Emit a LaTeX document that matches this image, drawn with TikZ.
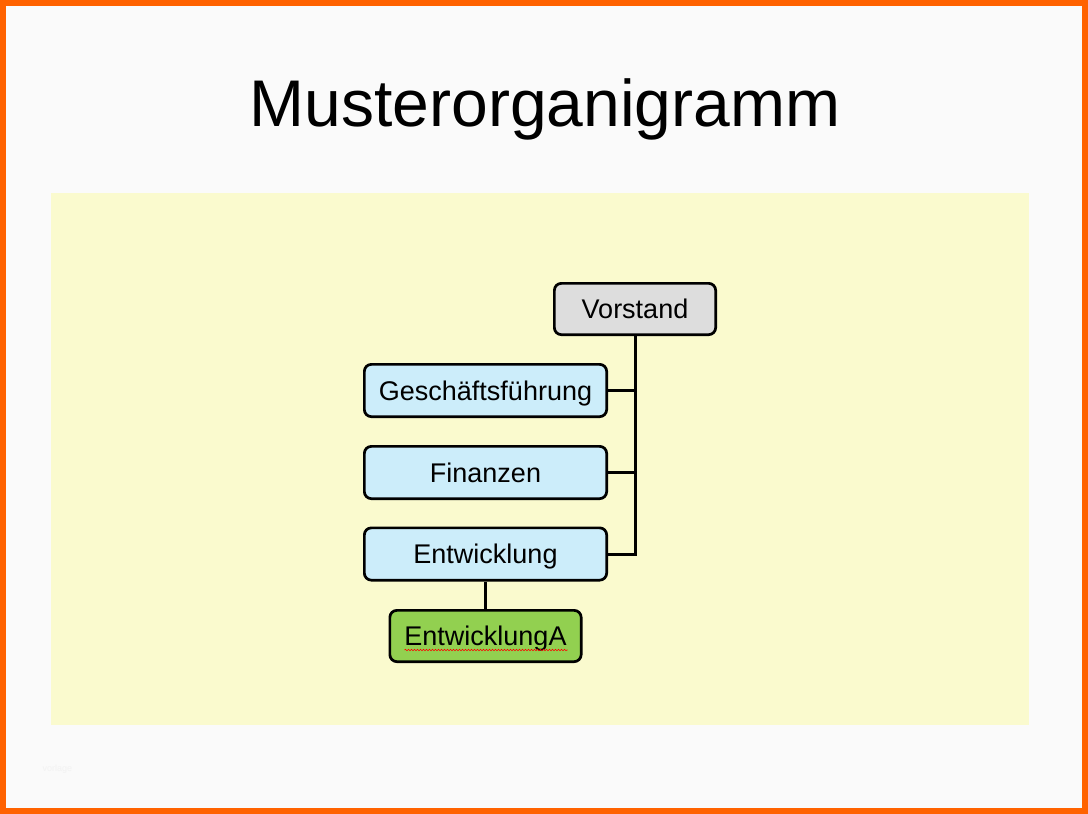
\documentclass[tikz,border=0pt]{standalone}
\usepackage{fontspec}
\setmainfont{Liberation Sans}
\usetikzlibrary{calc,decorations.pathmorphing}
\definecolor{rahmen}{RGB}{255,98,0}
\definecolor{folie}{RGB}{250,250,250}
\definecolor{flaeche}{RGB}{250,250,206}
\definecolor{grau}{RGB}{221,221,221}
\definecolor{hellblau}{RGB}{204,237,250}
\definecolor{gruen}{RGB}{146,208,80}
\tikzset{
	box/.style={draw, line width=2.7pt, rounded corners=7pt, inner sep=0pt,
		font=\fontsize{27}{32}\selectfont, text height=19.4pt, text depth=0pt},
	leiter/.style={box, fill=grau, minimum width=161.3pt, minimum height=51.3pt},
	abteilung/.style={box, fill=hellblau, minimum width=242.3pt, minimum height=52.3pt},
	team/.style={box, fill=gruen, minimum width=191.3pt, minimum height=51.3pt},
	linie/.style={line width=3pt}
}

\begin{document}
\begin{tikzpicture}[x=1pt, y=-1pt]
		%%%%% START %%%%%
		\useasboundingbox (0, 0) rectangle (1088, 814);
		\fill[rahmen] (0, 0) rectangle (1088, 814);
		\fill[folie] (6, 6) rectangle (1082, 808);
		\fill[flaeche] (51, 193) rectangle (1029, 725);
		
		\node[anchor=base, font=\fontsize{66}{78}\selectfont] (titel) at (545, 126) {Musterorganigramm};
		
		\node[leiter] (vorstand) at (635, 309) {Vorstand};
		\node[abteilung] (gf) at (485.5, 390.5) {Geschäftsführung};
		\node[abteilung] (fin) at (485.5, 472.5) {Finanzen};
		\node[abteilung] (entw) at (485.5, 554) {Entwicklung};
		\node[team] (entwA) at (485.5, 636) {EntwicklungA};
		
		\draw[linie] (vorstand.south) |- (entw.east);
		\draw[linie] (gf.east) -- (gf.east -| vorstand.south);
		\draw[linie] (fin.east) -- (fin.east -| vorstand.south);
		\draw[linie] (entw.south) -- (entwA.north);
		
		% Rechtschreibmarkierung
		\draw[red, line width=0.6pt, decorate, decoration={snake, amplitude=0.7pt, segment length=3pt}]
			($(entwA.center)+(-81, 14)$) -- ($(entwA.center)+(82, 14)$);
		
		\node[anchor=west, text=black!5, font=\fontsize{9}{10}\selectfont] (vorlage) at (39, 769) {vorlage};
		%%%%% END %%%%%
\end{tikzpicture}
\end{document}
